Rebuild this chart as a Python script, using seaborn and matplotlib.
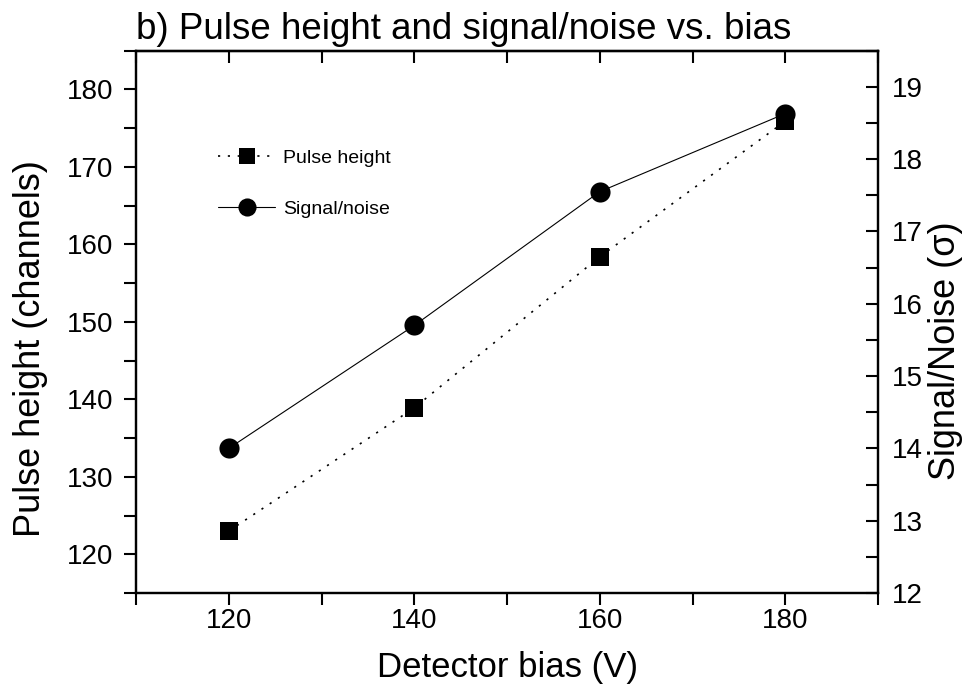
import matplotlib
matplotlib.use("Agg")
import matplotlib.pyplot as plt
from matplotlib.ticker import MultipleLocator, FixedLocator
import seaborn as sns
import pandas as pd

# ---- data ----
bias = [120, 140, 160, 180]
pulse_height = [123.0, 138.9, 158.4, 175.9]
signal_noise = [14.0, 15.7, 17.55, 18.63]

title = "b) Pulse height and signal/noise vs. bias"
xlabel = "Detector bias (V)"
ylabel_left = "Pulse height (channels)"
ylabel_right = "Signal/Noise (\u03c3)"
label_ph = "Pulse height"
label_sn = "Signal/noise"
x_ticklabels = [120, 140, 160, 180]
yl_ticklabels = [120, 130, 140, 150, 160, 170, 180]
yr_ticklabels = [12, 13, 14, 15, 16, 17, 18, 19]

df = pd.DataFrame({"bias": bias, "ph": pulse_height, "sn": signal_noise})

sns.set_theme(style="ticks")
plt.rcParams["font.family"] = ["Liberation Sans", "DejaVu Sans"]
plt.rcParams["axes.linewidth"] = 1.6
plt.rcParams["text.color"] = "black"
plt.rcParams["axes.labelcolor"] = "black"
plt.rcParams["xtick.color"] = "black"
plt.rcParams["ytick.color"] = "black"

fig = plt.figure(figsize=(9.72, 6.93), dpi=100)
ax = fig.add_axes([136/972, 1-593/693, (878-136)/972, (593-50.7)/693])
ax2 = ax.twinx()

sns.lineplot(data=df, x="bias", y="ph", ax=ax, color="black", marker="s",
             markersize=13, markeredgewidth=0, linewidth=1.2,
             linestyle=(0, (1.3, 4.6)), label=label_ph, legend=False)
sns.lineplot(data=df, x="bias", y="sn", ax=ax2, color="black", marker="o",
             markersize=14.5, markeredgewidth=0, linewidth=0.8,
             label=label_sn, legend=False)

ax.set_xlim(110, 190)
ax.set_ylim(115, 185)
ax2.set_ylim(12, 19.5)

# x ticks
ax.xaxis.set_major_locator(FixedLocator(x_ticklabels))
ax.xaxis.set_minor_locator(FixedLocator([110, 130, 150, 170, 190]))
ax.tick_params(axis="x", which="both", direction="out", length=8.6, width=1.5,
               bottom=True, top=False, labelsize=20, pad=2, colors="black")
# y left
ax.yaxis.set_major_locator(FixedLocator(yl_ticklabels))
ax.yaxis.set_minor_locator(MultipleLocator(5))
ax.tick_params(axis="y", which="both", direction="out", length=8.6, width=1.5,
               left=True, right=False, labelsize=20, pad=8, colors="black")
# y right
ax2.yaxis.set_major_locator(FixedLocator(yr_ticklabels))
ax2.yaxis.set_minor_locator(MultipleLocator(0.5))
ax2.tick_params(axis="y", which="both", direction="in", length=8.6, width=1.5,
                right=True, left=False, labelsize=20, pad=10, colors="black")
# top ticks (inward)
secx = ax.secondary_xaxis("top")
secx.xaxis.set_major_locator(FixedLocator(x_ticklabels))
secx.xaxis.set_minor_locator(FixedLocator([110, 130, 150, 170, 190]))
secx.tick_params(axis="x", which="both", direction="in", length=8.6, width=1.5,
                 labeltop=False, colors="black")
secx.spines["top"].set_linewidth(1.6)
secx.spines["top"].set_color("black")

for a in (ax, ax2):
    for s in a.spines.values():
        s.set_linewidth(1.6)
        s.set_color("black")

ax.set_xlabel(xlabel, fontsize=25, color="black")
ax.xaxis.set_label_coords(0.5, -0.107)
ax.set_ylabel(ylabel_left, fontsize=26, color="black")
ax.yaxis.set_label_coords(-0.119, 0.451)
ax2.set_ylabel(ylabel_right, fontsize=26, color="black")
ax2.yaxis.set_label_coords(1.067, 0.446)

fig.text(136/972, 1-39/693, title, fontsize=26.5, ha="left", va="baseline",
         color="black")

h1, l1 = ax.get_legend_handles_labels()
h2, l2 = ax2.get_legend_handles_labels()
leg = ax.legend(h1 + h2, l1 + l2, loc="upper left", bbox_to_anchor=(0.1105, 0.818),
                frameon=False, fontsize=14, markerscale=0.9, handlelength=2.94,
                handletextpad=0.41, labelspacing=1.72, borderpad=0, borderaxespad=0)
for t in leg.get_texts():
    t.set_color("black")

fig.savefig("out.png", dpi=100)
